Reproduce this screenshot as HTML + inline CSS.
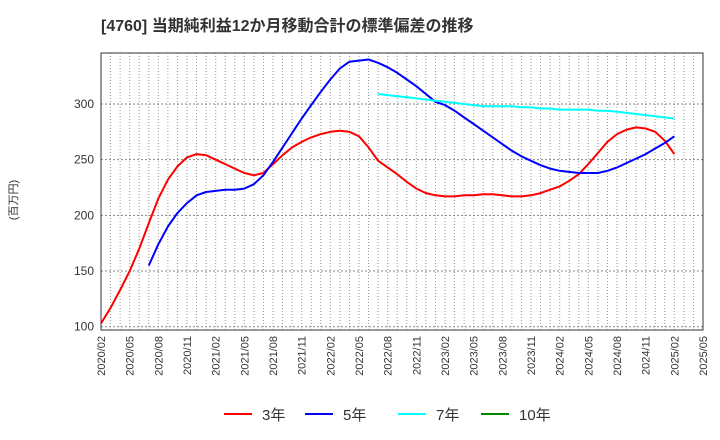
<!DOCTYPE html>
<html><head><meta charset="utf-8"><style>
body{margin:0;background:#fff;}
svg{display:block;font-family:"Liberation Sans","Noto Sans CJK JP",sans-serif;}
</style></head><body>
<svg id="chart" width="720" height="440" viewBox="0 0 720 440">
<text x="101" y="31" font-size="16" font-weight="bold" fill="#333">[4760]  当期純利益12か月移動合計の標準偏差の推移</text>
<text transform="translate(17,200) rotate(-90)" text-anchor="middle" font-size="11" fill="#333">(百万円)</text>
<g id="grid"></g>
<g id="axes"></g>
<g id="series"></g>
<g id="legend"></g>
</svg>
<script>
const months = [];
for (let y = 2020, m = 2; !(y === 2025 && m > 5); ) { months.push(y + "/" + String(m).padStart(2, "0")); m++; if (m > 12) { m = 1; y++; } }
const yTicks = [100, 150, 200, 250, 300];
const s3 = [103,117,133,150,170,193,215,232,244,252,255,254,250,246,242,238,236,238,246,254,261,266,270,273,275,276,275,271,261,249,243,237,230,224,220,218,217,217,218,218,219,219,218,217,217,218,220,223,226,231,237,246,256,266,273,277,279,278,275,267,255];
const s5 = [155,174,190,202,211,218,221,222,223,223,224,228,236,248,261,274,287,299,311,322,332,338,339,340,337,333,328,322,316,309,302,299,294,288,282,276,270,264,258,253,249,245,242,240,239,238,238,238,240,243,247,251,255,260,265,271];
const s5Start = 5;
const s7 = [309,308,307,306,305,304,303,302,301,300,299,298,298,298,298,297,297,296,296,295,295,295,295,294,294,293,292,291,290,289,288,287];
const s7Start = 29;
const legendNames = ["3年","5年","7年","10年"];
const legendColors = ["#f00","#00f","#0ff","#080"];

const L=101,R=703,T=53,B=330;
const xs = i => L + (R-L) * i / (months.length-1);
const ys = v => 104 + (300 - v) * (222.7/200);
const NS="http://www.w3.org/2000/svg";
function mk(tag, attrs, parent){const e=document.createElementNS(NS,tag);for(const k in attrs)e.setAttribute(k,attrs[k]);parent.appendChild(e);return e;}
const grid=document.getElementById('grid'), axes=document.getElementById('axes'), ser=document.getElementById('series'), leg=document.getElementById('legend');
months.forEach((m,i)=>{
  const g=mk('line',{x1:xs(i),x2:xs(i),y1:T,y2:B,stroke:'#999','stroke-dasharray':'1,2','stroke-width':1},grid);
  
  
  if(i%3===0){
    const t=mk('text',{transform:`translate(${xs(i)+4},${B+6}) rotate(-90)`,'text-anchor':'end','font-size':11,fill:'#333'},axes);
    t.textContent=m;
    
    
  }
});
yTicks.forEach(v=>{
  const g=mk('line',{x1:L,x2:R,y1:ys(v),y2:ys(v),stroke:'#888','stroke-dasharray':'2,2','stroke-width':1},grid);
  
  
  const t=mk('text',{x:L-7,y:ys(v)+4,'text-anchor':'end','font-size':12,fill:'#333'},axes);
  t.textContent=v;
  
  
});
const frame=mk('rect',{x:L,y:T,width:R-L,height:B-T,fill:'none',stroke:'#333','stroke-width':1},axes);


function line(arr,start,color,name){
  const d=arr.map((v,i)=>(i?'L':'M')+xs(start+i).toFixed(1)+','+ys(v).toFixed(1)).join(' ');
  const p=mk('path',{d:d,fill:'none',stroke:color,'stroke-width':2,'stroke-linejoin':'round'},ser);
  
  
}
line(s3,0,'#f00','series-3y');
line(s5,s5Start,'#00f','series-5y');
line(s7,s7Start,'#0ff','series-7y');
const lx=[224,305,398,481];
legendNames.forEach((n,i)=>{
  const l=mk('line',{x1:lx[i],x2:lx[i]+28,y1:414,y2:414,stroke:legendColors[i],'stroke-width':2},leg);
  
  
  const t=mk('text',{x:lx[i]+38,y:420,'font-size':15,fill:'#333'},leg);
  t.textContent=n;
  
  
});
</script>
</body></html>
